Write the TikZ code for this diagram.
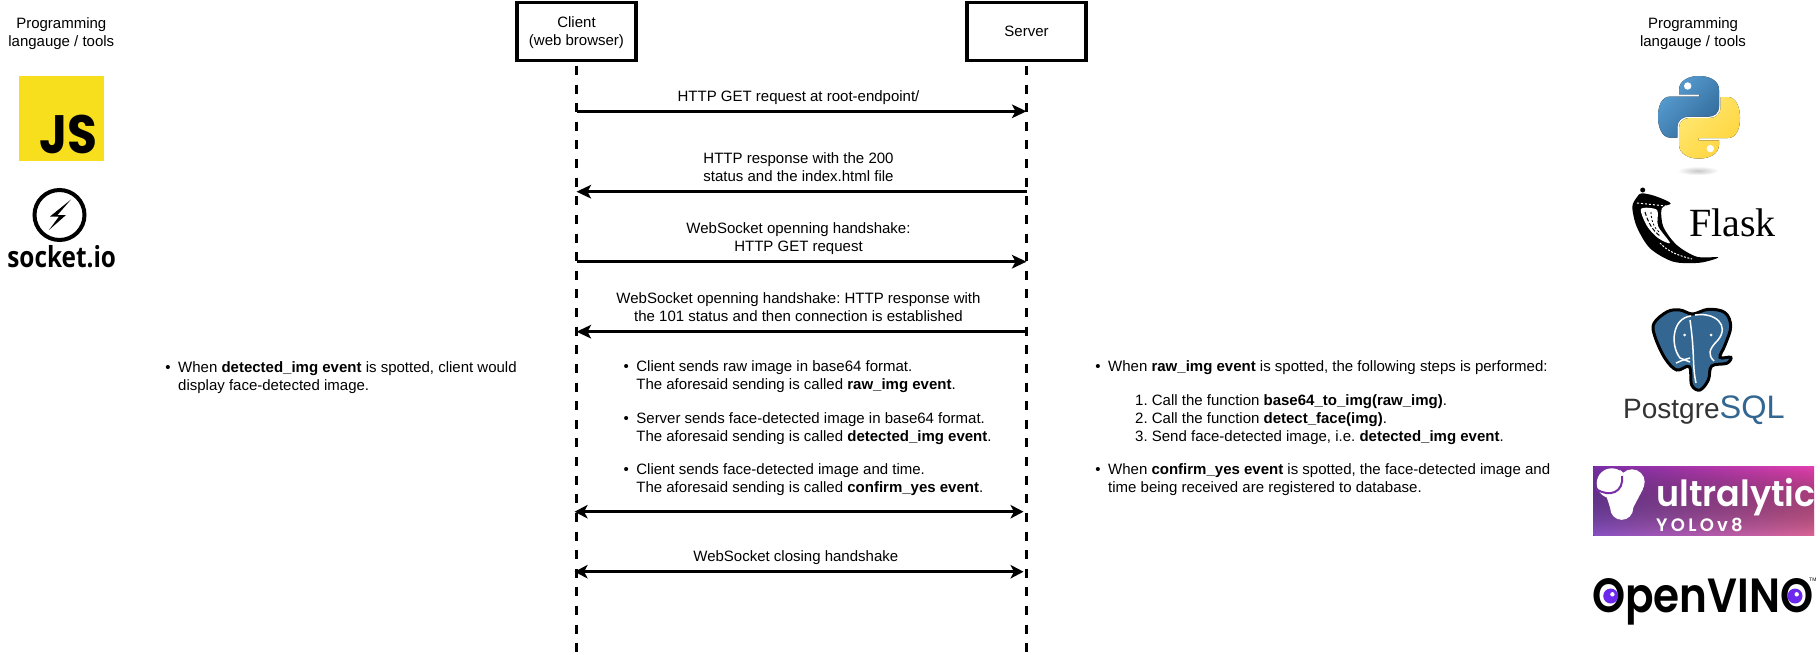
\documentclass[tikz,border=0pt]{standalone}
\usepackage{fontspec}
\setmainfont{Liberation Sans}
\newfontfamily\logofont{Poppins SemiBold}
\newfontfamily\boldlogofont{Poppins}[BoldFont={* Bold}]
\newfontfamily\socketfont{Open Sans}
\usetikzlibrary{arrows.meta,fadings}
\frenchspacing
\definecolor{jsyellow}{HTML}{F7DF1E}
\definecolor{pyblue}{HTML}{306998}
\definecolor{pysky}{HTML}{5A9FD4}
\definecolor{pysun}{HTML}{FFE873}
\definecolor{pygold}{HTML}{FFD43B}
\definecolor{pgblue}{HTML}{336791}
\definecolor{pgdark}{HTML}{333333}
\definecolor{yolopurple}{HTML}{7A2FA8}
\definecolor{yolopink}{HTML}{E53FB0}
\definecolor{yolodusk}{HTML}{8A52C4}
\definecolor{yolorose}{HTML}{DC6498}
\definecolor{vinoeye}{HTML}{6D28EE}
\tikzset{
  boxnode/.style={draw=black,line width=3.3pt,minimum width=119pt,minimum height=58pt,inner sep=0pt,outer sep=0pt,align=center,font=\fontsize{15pt}{18pt}\selectfont},
  lifeline/.style={line width=3pt,black,dash pattern=on 9pt off 9.62pt,dash phase=13.12pt},
  msgline/.style={line width=3pt,black,-{Stealth[length=14.5pt,width=13.5pt,inset=3.5pt]}},
  bothline/.style={line width=3pt,black,{Stealth[length=13pt,width=13.5pt,inset=3.5pt]}-{Stealth[length=13pt,width=13.5pt,inset=3.5pt]}},
  msgtext/.style={inner sep=0pt,align=center,font=\fontsize{15pt}{18pt}\selectfont},
  listtext/.style={inner sep=0pt,anchor=west,align=left,font=\fontsize{15pt}{18pt}\selectfont},
}
\newcommand{\bul}{\llap{•\hspace{7.5pt}}}
\newcommand{\numb}[1]{\llap{#1.\hspace{4.2pt}}}
\newcommand{\pysnake}{(-20,-27.3) .. controls (-20,-37) and (-10,-41.3) .. (0,-41.3) .. controls (10,-41.3) and (20,-37) .. (20,-27.3) -- (20,-10.7) .. controls (20,-4) and (15,-0.7) .. (9.3,-0.7) -- (-10.7,-0.7) .. controls (-17,-0.7) and (-21.7,4) .. (-21.7,9.3) -- (-21.7,20.3) -- (-29,20.3) .. controls (-37,20.3) and (-41,10) .. (-41,-0.7) .. controls (-41,-12) and (-37,-20.7) .. (-29,-20.7) -- (0.3,-20.7) -- (0.3,-23) -- (-20,-23) -- cycle}
\begin{document}
\begin{tikzpicture}[x=1pt,y=-1pt]
            \useasboundingbox (0,0) rectangle (1820,654);
            % headings
            \node [msgtext] (toolsleft) at (61.3,33.5) {Programming\\langauge / tools};
            \node [msgtext] (toolsright) at (1693,33.5) {Programming\\langauge / tools};
            % client and server boxes
            \node [boxnode] (client) at (576.5,31.5) {};
            \node [msgtext] (clientlabel) at (576.5,33) {Client\\(web browser)};
            \node [boxnode] (server) at (1026.5,31.5) {Server};
            % lifelines
            \coordinate (clientend) at (576.5,652);
            \coordinate (serverend) at (1026.5,652);
            \draw [lifeline] (client.south) -- (clientend);
            \draw [lifeline] (server.south) -- (serverend);
            % message 1
            \coordinate (getc) at (576.5,111.3);
            \coordinate (gets) at (1026.5,111.3);
            \draw [msgline] (getc) -- (gets);
            \node [msgtext] (getlabel) at (798.5,97.5) {HTTP GET request at root-endpoint/};
            % message 2
            \coordinate (okc) at (576.5,191.7);
            \coordinate (oks) at (1026.5,191.7);
            \draw [msgline] (oks) -- (okc);
            \node [msgtext] (oklabel) at (798.5,167.5) {HTTP response with the 200\\status and the index.html file};
            % message 3
            \coordinate (openc) at (576.5,261.7);
            \coordinate (opens) at (1026.5,261.7);
            \draw [msgline] (openc) -- (opens);
            \node [msgtext] (openlabel) at (798.5,238.5) {WebSocket openning handshake:\\HTTP GET request};
            % message 4
            \coordinate (upc) at (576.5,331.7);
            \coordinate (ups) at (1026.5,331.7);
            \draw [msgline] (ups) -- (upc);
            \node [msgtext] (uplabel) at (798.5,307.5) {WebSocket openning handshake: HTTP response with\\the 101 status and then connection is established};
            % events in the middle
            \node [listtext] (rawnote) at (636.2,377) {\bul Client sends raw image in base64 format.\\The aforesaid sending is called \textbf{raw\_img event}.};
            \node [listtext] (detnote) at (636.2,428.3) {\bul Server sends face-detected image in base64 format.\\The aforesaid sending is called \textbf{detected\_img event}.};
            \node [listtext] (confnote) at (636.2,479.5) {\bul Client sends face-detected image and time.\\The aforesaid sending is called \textbf{confirm\_yes event}.};
            % double arrows
            \coordinate (datac) at (574.6,511.7);
            \coordinate (datas) at (1023.5,511.7);
            \draw [bothline] (datac) -- (datas);
            \coordinate (closec) at (574.6,571.7);
            \coordinate (closes) at (1023.5,571.7);
            \draw [bothline] (closec) -- (closes);
            \node [msgtext] (closelabel) at (795.8,557.5) {WebSocket closing handshake};
            % left note
            \node [listtext] (leftnote) at (178,377.5) {\bul When \textbf{detected\_img event} is spotted, client would\\display face-detected image.};
            % right notes
            \node [listtext] (rightone) at (1108,368) {\bul When \textbf{raw\_img event} is spotted, the following steps is performed:};
            \node [listtext] (rightsteps) at (1151.7,419.5) {\numb{1}Call the function \textbf{base64\_to\_img(raw\_img)}.\\\numb{2}Call the function \textbf{detect\_face(img)}.\\\numb{3}Send face-detected image, i.e. \textbf{detected\_img event}.};
            \node [listtext] (righttwo) at (1108,479.5) {\bul When \textbf{confirm\_yes event} is spotted, the face-detected image and\\time being received are registered to database.};
            % javascript logo
            \fill [jsyellow] (19,76) rectangle (104,161);
            \node [inner sep=0pt,anchor=base east,xscale=0.9,font=\boldlogofont\bfseries\fontsize{54pt}{54pt}\selectfont] (jslogo) at (98,153) {JS};
            % socket.io logo
            \draw [line width=4pt,black] (59.5,215) circle (25);
            \fill [black] (71,199.5) -- (50,216.5) -- (59,216.5) -- (49,230) -- (66,215) -- (57.5,215) -- cycle;
            \node [inner sep=0pt,anchor=base,xscale=0.84,font=\socketfont\bfseries\fontsize{29pt}{29pt}\selectfont] (socketlogo) at (61.7,267.7) {socket.io};
            % python logo
            \shade [inner color=black!22,outer color=white] (1698,170.7) ellipse (21 and 4.5);
            \begin{scope}[shift={(1699,117.3)}]
              \fill [top color=pysky,bottom color=pyblue,shading angle=45] \pysnake;
              \fill [white] (-11.3,-31.3) circle (3.7);
              \begin{scope}[rotate=180]
                \fill [top color=pysun,bottom color=pygold,shading angle=45] \pysnake;
                \fill [white] (-11.3,-31.3) circle (3.7);
              \end{scope}
            \end{scope}
            % flask logo
            \fill [black] plot [smooth cycle,tension=0.5] coordinates {(1641.7,193.3) (1655,196) (1670.7,203.3) (1661.7,208.3) (1663.3,226.7) (1676.7,245) (1696.7,256.7) (1718.3,257.3) (1700,262.7) (1673.3,261.7) (1650,248.3) (1636.7,226.7) (1632.3,206.7) (1637.3,196.7)};
            \fill [black] (1642.7,190) circle (2.5);
            \fill [white] plot [smooth cycle,tension=0.5] coordinates {(1641,209) (1657,210) (1658,226) (1670,243) (1658,238) (1647,226)};
            \draw [black,line width=1pt,dash pattern=on 4pt off 2pt] (1645,212) .. controls (1648,222) and (1652,230) .. (1660,236);
            \draw [black,line width=0.8pt,dash pattern=on 2pt off 2pt] (1651,212) .. controls (1651,220) and (1654,228) .. (1659,232);
            \draw [white,line width=1pt,dash pattern=on 2pt off 1.5pt] (1660,243) .. controls (1668,252) and (1680,256) .. (1692,259);
            \draw [white,line width=1pt,dash pattern=on 2pt off 2pt] (1637,203) -- (1666,206);
            \node [inner sep=0pt,anchor=base west,font=\fontspec{Liberation Serif}\fontsize{40pt}{40pt}\selectfont] (flasklogo) at (1689,236.7) {Flask};
            % postgresql logo
            \draw [line width=3pt,black,fill=pgblue] plot [smooth cycle,tension=0.6] coordinates {(1654,323.3) (1667.3,311.7) (1680,310) (1692.7,314) (1708.3,309.3) (1725,312.7) (1730.7,326.7) (1725,345) (1720,357.3) (1730.7,357.3) (1726.7,363.3) (1711.7,366) (1708.3,380) (1700,390) (1691.7,385) (1689.3,366.7) (1676.7,370) (1665,358.3) (1655,336.7)};
            \draw [white,line width=1.5pt] (1691,316) .. controls (1672,318) and (1670,345) .. (1680,358) -- (1690,362);
            \draw [white,line width=1.5pt] (1690,320) .. controls (1695,355) and (1692,365) .. (1696,383);
            \draw [white,line width=1.5pt] (1695,315) .. controls (1715,312) and (1730,325) .. (1718,340) .. controls (1708,350) and (1708,355) .. (1714,361);
            \draw [white,line width=1.5pt] (1676,363) .. controls (1682,360) and (1690,358) .. (1690,358);
            \fill [white] (1684.5,335) circle (1.5);
            \fill [white] (1711,335) circle (1.5);
            \node [inner sep=0pt,anchor=base west,font=\fontsize{28pt}{28pt}\selectfont,text=pgdark] (pglogo) at (1623,418) {Postgre\textcolor{pgblue}{\fontsize{32.5pt}{32.5pt}\selectfont SQL}};
            % ultralytics logo
            \fill [left color=yolopurple,right color=yolopink] (1593.3,466) rectangle (1814,535.7);
            \fill [left color=yolodusk,right color=yolorose,path fading=north] (1593.3,466) rectangle (1814,535.7);
            \fill [white] (1611.7,483.3) circle (15);
            \fill [white] (1632,482) circle (12.7);
            \fill [white] (1621.7,508.3) circle (11.5);
            \fill [white] (1606,495) -- (1620,470) -- (1643,489) -- (1633,508) -- (1610.2,508) -- cycle;
            \draw [yolopurple,line width=2pt] (1596,489) .. controls (1610,498) and (1624,492) .. (1622,476);
            \node [inner sep=0pt,anchor=base west,text=white,xscale=0.97,font=\logofont\fontsize{36pt}{36pt}\selectfont] (yolotop) at (1656,506.7) {ultralytic};
            \node [inner sep=0pt,anchor=base west,text=white,font=\logofont\addfontfeature{LetterSpace=18}\fontsize{18pt}{18pt}\selectfont] (yolobottom) at (1656,531.7) {YOLOv8};
            % openvino logo
            \node [inner sep=0pt,anchor=base west,xscale=0.878,font=\logofont\fontsize{48pt}{48pt}\selectfont] (vinologo) at (1592,612) {OpenVINO};
            \node [inner sep=0pt,anchor=west,font=\fontsize{5pt}{5pt}\selectfont] (vinotm) at (1809,580) {TM};
            \foreach \eyex/\eyename in {1610.7/left,1795/right} {
              \fill [vinoeye] (\eyex,596) circle (7.5);
              \fill [white] (\eyex+1.7,594.3) circle (2.2);
            }
\end{tikzpicture}
\end{document}
